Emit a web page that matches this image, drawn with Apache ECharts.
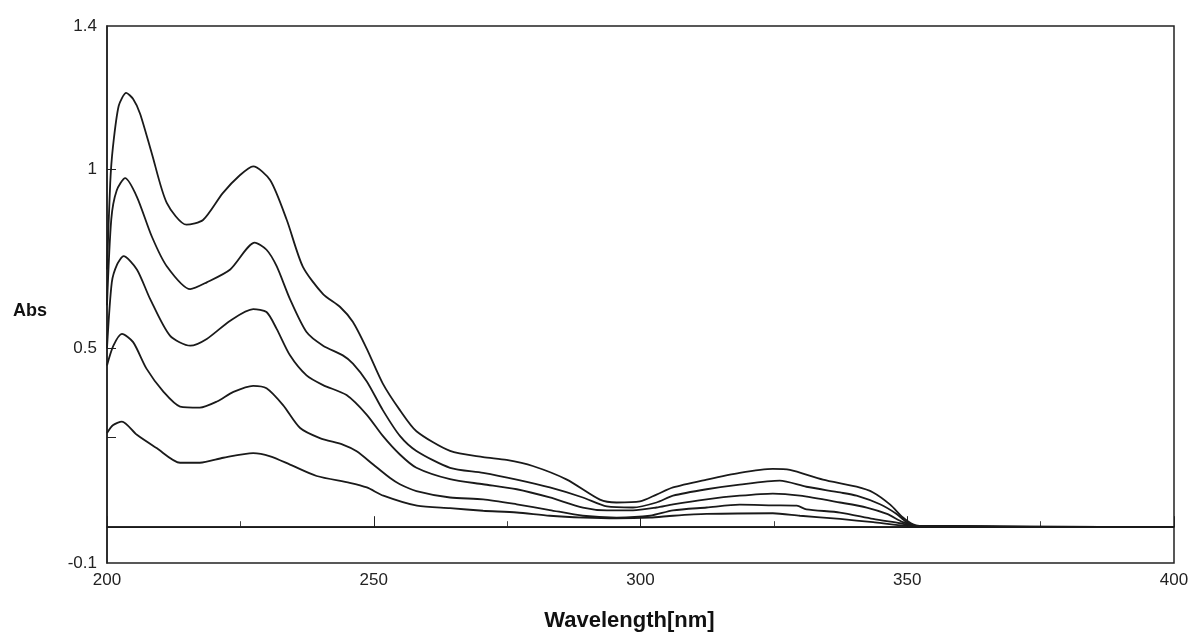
<!DOCTYPE html>
<html>
<head>
<meta charset="utf-8">
<script src="https://cdn.jsdelivr.net/npm/echarts@6/dist/echarts.min.js"></script>
<style>
  html, body { margin: 0; padding: 0; background: #fff; }
  #chart { width: 1192px; height: 637px; }
</style>
</head>
<body>
<div id="chart"></div>
<script>
// spectra, [wavelength nm, absorbance]
var conc5 = [[200,0.72],[200.6,0.96],[201.1,1.06],[202.2,1.177],[203.6,1.213],[204.9,1.196],[206.2,1.155],[208.4,1.044],[211.2,0.906],[214.9,0.845],[218.0,0.858],[221.7,0.933],[224.9,0.983],[227.4,1.008],[230.6,0.969],[233.7,0.858],[236.7,0.728],[240.5,0.651],[243.7,0.615],[246.1,0.573],[248.7,0.498],[251.7,0.401],[254.9,0.327],[258.0,0.268],[264.3,0.213],[270.5,0.196],[274.9,0.188],[279.8,0.171],[286.2,0.133],[292.4,0.077],[295.5,0.069],[299.9,0.072],[303.0,0.091],[306.1,0.111],[312.4,0.133],[318.6,0.152],[324.8,0.163],[328.0,0.160],[334.2,0.133],[340.5,0.113],[343.6,0.097],[346.8,0.063],[349.2,0.027],[351.1,0.008],[353.7,0.002],[400,0.0]];
var conc4 = [[200,0.62],[200.8,0.86],[201.8,0.94],[203.4,0.975],[205.6,0.923],[208.4,0.812],[211.2,0.729],[215.6,0.665],[218.7,0.684],[223.1,0.720],[227.7,0.795],[229.9,0.775],[231.8,0.729],[234.3,0.637],[237.4,0.545],[240.5,0.507],[244.2,0.480],[246.1,0.457],[248.7,0.407],[251.7,0.327],[254.9,0.255],[258.0,0.213],[264.3,0.166],[270.5,0.152],[276.8,0.133],[283.0,0.111],[289.2,0.083],[293.7,0.058],[298.6,0.055],[303.0,0.069],[306.1,0.088],[312.4,0.106],[318.6,0.119],[326.1,0.130],[331.1,0.113],[337.4,0.097],[340.5,0.088],[344.9,0.064],[348.0,0.037],[349.9,0.014],[352.4,0.002],[400,0.0]];
var conc3 = [[200,0.50],[200.9,0.684],[201.9,0.734],[203.1,0.757],[205.6,0.720],[208.1,0.637],[211.8,0.535],[215.6,0.507],[218.7,0.526],[223.1,0.577],[227.4,0.609],[229.9,0.601],[231.8,0.554],[234.3,0.480],[237.4,0.424],[240.5,0.397],[244.9,0.369],[248.7,0.314],[251.7,0.255],[254.9,0.203],[258.0,0.166],[264.3,0.134],[270.5,0.120],[276.8,0.106],[283.0,0.083],[289.2,0.055],[293.7,0.047],[298.6,0.047],[303.0,0.055],[306.1,0.064],[312.4,0.078],[318.6,0.088],[324.8,0.094],[329.9,0.088],[337.4,0.069],[342.4,0.055],[346.2,0.037],[349.2,0.014],[351.8,0.002],[400,0.0]];
var conc2 = [[200,0.452],[201.2,0.507],[202.8,0.540],[204.9,0.517],[207.4,0.443],[210.6,0.378],[213.7,0.337],[217.4,0.334],[220.6,0.351],[223.7,0.378],[227.4,0.395],[229.9,0.388],[233.0,0.341],[236.2,0.277],[239.9,0.249],[244.3,0.230],[246.8,0.212],[249.9,0.175],[253.0,0.138],[254.9,0.120],[258.0,0.101],[264.3,0.083],[270.5,0.078],[276.8,0.064],[283.0,0.048],[289.2,0.032],[295.5,0.027],[301.8,0.032],[306.1,0.047],[312.4,0.055],[318.6,0.063],[324.8,0.061],[329.3,0.060],[331.1,0.050],[337.4,0.041],[343.6,0.023],[348.6,0.011],[351.1,0.004],[400,0.0]];
var conc1 = [[200,0.263],[201.1,0.285],[202.8,0.295],[205.6,0.258],[209.3,0.221],[213.7,0.180],[217.4,0.180],[221.8,0.194],[227.4,0.207],[230.6,0.198],[234.3,0.175],[239.3,0.143],[245.5,0.124],[248.7,0.111],[251.8,0.088],[258.1,0.060],[264.3,0.053],[270.5,0.046],[276.8,0.041],[283.0,0.032],[289.3,0.027],[295.5,0.025],[301.8,0.027],[306.1,0.032],[312.4,0.037],[324.8,0.039],[329.9,0.032],[337.4,0.023],[343.6,0.014],[349.9,0.004],[400,0.0]];
var blank = [[200,0.0],[400,0.0]];

var yLabelValues = [-0.1, 0.5, 1, 1.4];
var yTickValues = [0.25, 0.5, 1];

var spectra = [blank, conc1, conc2, conc3, conc4, conc5];

var chart = echarts.init(document.getElementById('chart'));

var labelFont = {
    color: '#222',
    fontFamily: 'Liberation Sans, Arial, sans-serif',
    fontSize: 17
};

var option = {
    animation: false,
    backgroundColor: '#fff',
    grid: {
        left: 107, right: 18, top: 26, bottom: 71,
        show: true, borderColor: '#222', borderWidth: 1.5
    },
    xAxis: {
        type: 'value',
        min: 200, max: 400, interval: 50,
        name: 'Wavelength[nm]',
        nameLocation: 'middle',
        nameGap: 47,
        nameTextStyle: {
            color: '#111', fontWeight: 'bold', fontSize: 22,
            fontFamily: 'Liberation Sans, Arial, sans-serif',
            padding: [0, 22, 0, 0]
        },
        axisLine: { lineStyle: { color: '#222', width: 1.5 } },
        axisTick: { inside: true, length: 11, lineStyle: { color: '#222' } },
        minorTick: { show: true, splitNumber: 2, length: 6, lineStyle: { color: '#444' } },
        splitLine: { show: false },
        axisLabel: Object.assign({ margin: 9 }, labelFont)
    },
    yAxis: {
        type: 'value',
        min: -0.1, max: 1.4,
        axisLine: { show: true, lineStyle: { color: '#222', width: 1.5 } },
        axisTick: { show: true, inside: true, length: 9, customValues: yTickValues, lineStyle: { color: '#222' } },
        splitLine: { show: false },
        axisLabel: Object.assign({ margin: 10, customValues: yLabelValues }, labelFont)
    },
    graphic: [{
        type: 'text',
        left: 13, top: 302,
        style: {
            text: 'Abs',
            fill: '#111',
            font: 'bold 18px "Liberation Sans", Arial, sans-serif'
        }
    }],
    series: spectra.map(function (d) {
        return {
            type: 'line',
            data: d,
            showSymbol: false,
            smooth: 0.25,
            lineStyle: { color: '#1a1a1a', width: 1.8 },
            silent: true
        };
    })
};

chart.setOption(option);
</script>
</body>
</html>
